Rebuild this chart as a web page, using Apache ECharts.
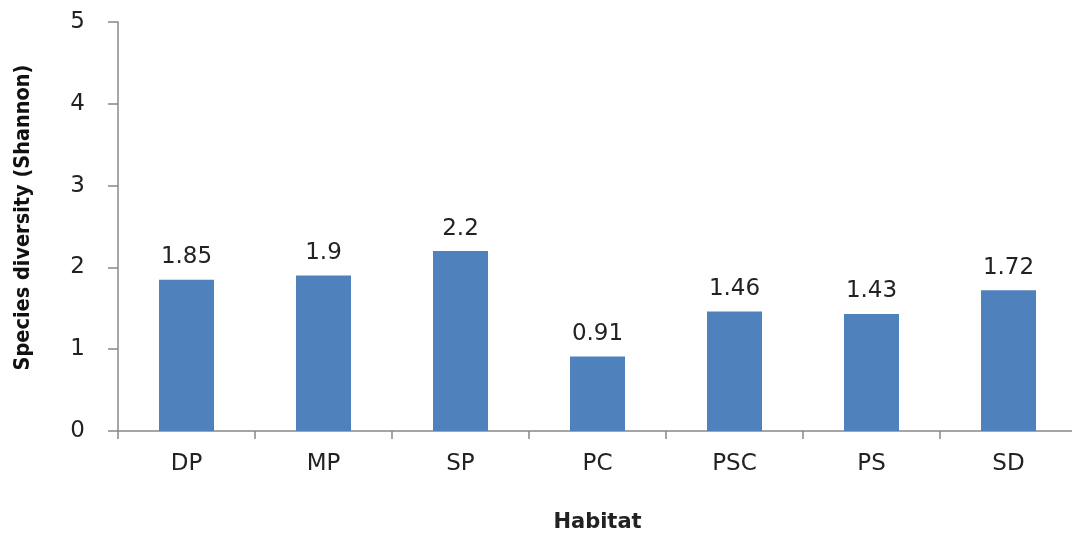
<!DOCTYPE html>
<html><head><meta charset="utf-8">
<script src="https://cdn.jsdelivr.net/npm/echarts@6/dist/echarts.min.js"></script>
<style>html,body{margin:0;padding:0;background:#fff}#c{width:1072px;height:533px}</style>
</head><body><div id="c"></div>
<script>
const categories = ['DP','MP','SP','PC','PSC','PS','SD'];
const values = [1.85, 1.9, 2.2, 0.91, 1.46, 1.43, 1.72];
const labels = ['1.85','1.9','2.2','0.91','1.46','1.43','1.72'];
const chart = echarts.init(document.getElementById('c'));
const font = 'DejaVu Sans, sans-serif';
chart.setOption({
  animation: false,
  grid: {left: 118, right: -5, top: 22, bottom: 102, containLabel: false, outerBoundsMode: 'none'},
  xAxis: {
    type: 'category', data: categories,
    name: 'Habitat', nameLocation: 'middle', nameGap: 81,
    nameTextStyle: {fontFamily: font, fontWeight: 'bold', fontSize: 21, color: '#222'},
    axisLine: {lineStyle: {color: '#888', width: 1.5}},
    axisTick: {show: true, length: 8, lineStyle: {color: '#888', width: 1.5}},
    axisLabel: {margin: 22, fontFamily: font, fontSize: 23, color: '#222'}
  },
  yAxis: {
    type: 'value', min: 0, max: 5, interval: 1,
    name: 'Species diversity (Shannon)', nameLocation: 'middle', nameGap: 84,
    nameTextStyle: {fontFamily: 'Liberation Sans Narrow, DejaVu Sans Condensed, sans-serif', fontWeight: 'bold', fontSize: 21.5, color: '#111', padding: [0, 0, 0, 18]},
    axisLine: {show: true, lineStyle: {color: '#888', width: 1.5}},
    axisTick: {show: true, length: 10, inside: false, lineStyle: {color: '#888', width: 1.5}},
    axisLabel: {margin: 33, fontFamily: font, fontSize: 23, color: '#222'},
    splitLine: {show: false}
  },
  series: [{
    type: 'bar', data: values, barWidth: 55,
    itemStyle: {color: '#4F81BD'},
    label: {show: true, position: 'top', distance: 11, fontFamily: font, fontSize: 23, color: '#222',
      formatter: p => labels[p.dataIndex]}
  }]
});
</script></body></html>
